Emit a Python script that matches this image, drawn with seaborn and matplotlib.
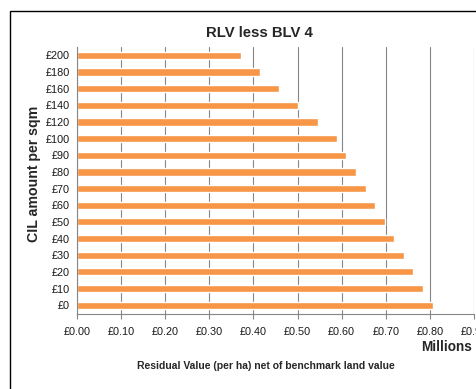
import pandas as pd
import matplotlib.pyplot as plt
import seaborn as sns
from matplotlib.patches import Rectangle

CIL_LEVELS = ["£200", "£180", "£160", "£140", "£120", "£100", "£90", "£80",
              "£70", "£60", "£50", "£40", "£30", "£20", "£10", "£0"]
RESIDUAL_VALUE = [0.371, 0.415, 0.457, 0.500, 0.546, 0.589, 0.609, 0.633,
                  0.655, 0.676, 0.698, 0.719, 0.741, 0.761, 0.784, 0.807]
X_TICKS = [0.0, 0.1, 0.2, 0.3, 0.4, 0.5, 0.6, 0.7, 0.8, 0.9]

BAR_COLOR = "#F79646"
GRID_COLOR = "#868686"


def run():
    sns.set_theme(style="white")
    plt.rcParams["font.family"] = ["Liberation Sans", "DejaVu Sans"]

    df = pd.DataFrame({"CIL": CIL_LEVELS, "Value": RESIDUAL_VALUE})

    fig = plt.figure(figsize=(4.77, 3.89), dpi=100)
    W, H = 477, 389
    # chart area border (cut off at right / bottom like the reference)
    fig.patches.append(Rectangle((10 / W, -0.1), 1.0, 1 - 11 / H + 0.1,
                                 transform=fig.transFigure, fill=False,
                                 edgecolor="black", linewidth=1.0))

    ax = fig.add_axes([77 / W, 1 - 313.5 / H, (474 - 77) / W, (313.5 - 47) / H])
    sns.barplot(data=df, x="Value", y="CIL", orient="h", color=BAR_COLOR,
                saturation=1, width=0.43, ax=ax)

    ax.set_xlim(0, 0.9)
    ax.set_ylim(len(CIL_LEVELS) - 0.5, -0.5)
    ax.set_xticks(X_TICKS)
    ax.set_xticklabels([f"£{v:.2f}" for v in X_TICKS], fontsize=7.8, color="#1a1a1a")
    ax.tick_params(axis="y", labelsize=7.8, labelcolor="#1a1a1a", length=0, pad=5)
    ax.tick_params(axis="x", length=3.5, color=GRID_COLOR, width=0.8, pad=6,
                   direction="out", bottom=True)

    ax.set_axisbelow(True)
    ax.grid(axis="x", color=GRID_COLOR, linewidth=0.8)
    ax.grid(axis="y", visible=False)
    for side in ["top", "right"]:
        ax.spines[side].set_visible(False)
    for side in ["left", "bottom"]:
        ax.spines[side].set_color(GRID_COLOR)
        ax.spines[side].set_linewidth(0.8)

    ax.set_xlabel("")
    ax.set_ylabel("CIL amount per sqm", fontsize=10.2, fontweight="bold")
    ax.yaxis.set_label_coords(-0.091, 0.523)

    fig.text(259 / W, 1 - 33 / H, "RLV less BLV 4", fontsize=10.7, fontweight="bold",
             ha="center", va="center")
    fig.text(447 / W, 1 - 347 / H, "Millions", fontsize=9.8, fontweight="bold",
             ha="center", va="center")
    fig.text(266 / W, 1 - 366 / H, "Residual Value (per ha) net of benchmark land value",
             fontsize=7.5, fontweight="bold", ha="center", va="center")

    fig.savefig("out.png", dpi=100)
    plt.close(fig)


if __name__ == "__main__":
    run()
